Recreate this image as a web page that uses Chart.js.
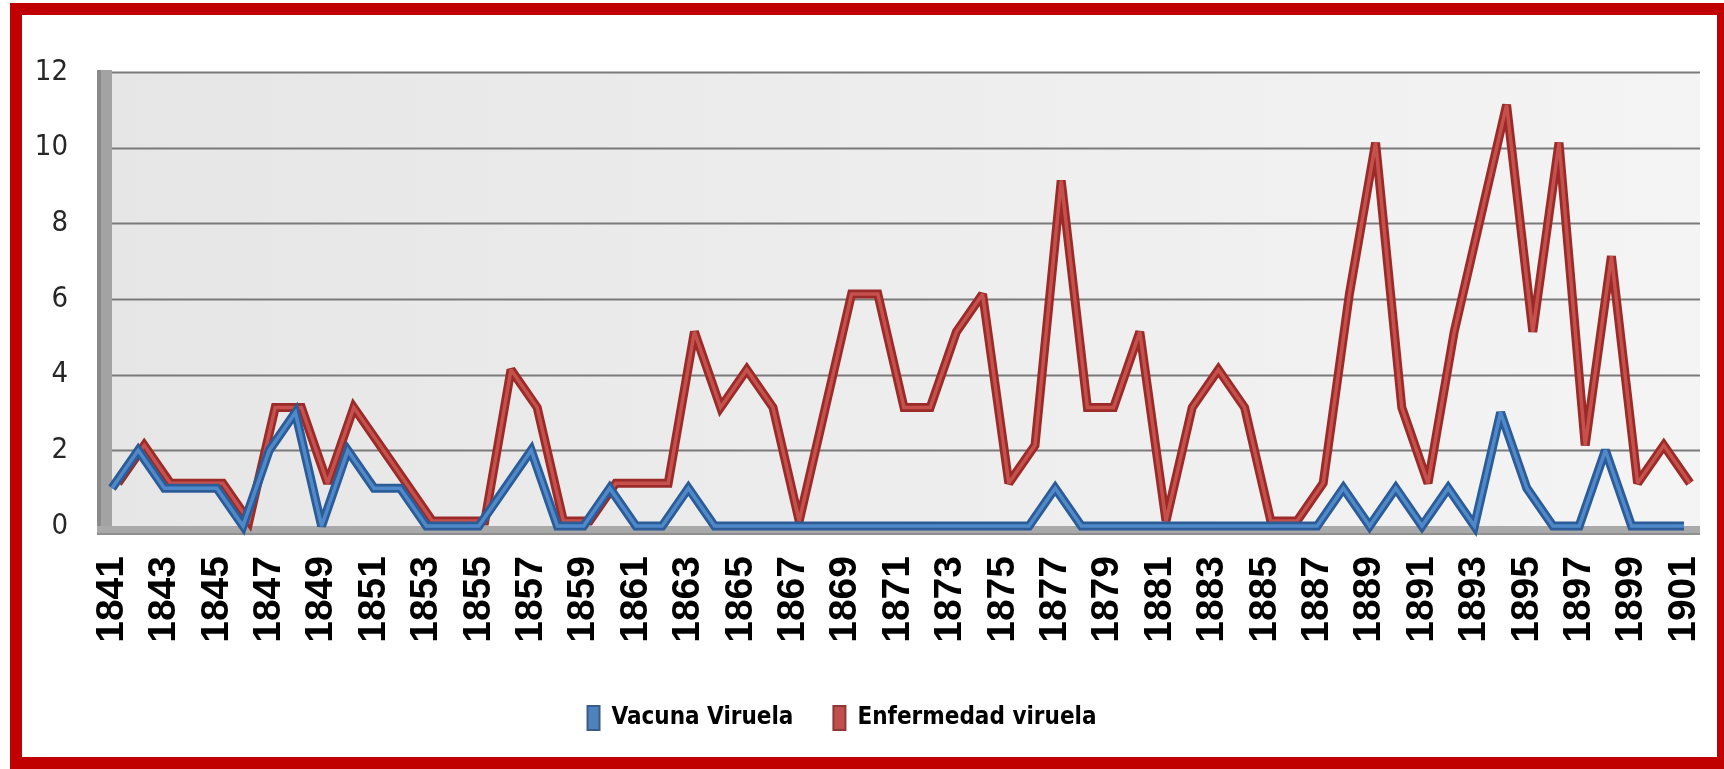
<!DOCTYPE html>
<html>
<head>
<meta charset="utf-8">
<script src="https://cdn.jsdelivr.net/npm/chart.js@4.4.1/dist/chart.umd.min.js"></script>
<style>
  html, body { margin: 0; padding: 0; background: #fff; overflow: hidden; }
  #wrap { position: relative; width: 1724px; height: 769px; }
  #marco {
    position: absolute; left: 10px; top: 3px; width: 1719px; height: 766px;
    border: 12px solid #c00000; box-sizing: border-box; pointer-events: none;
  }
</style>
</head>
<body>
<div id="wrap">
  <canvas id="viruela" width="1724" height="769"></canvas>
  <div id="marco"></div>
</div>
<script>
// años del registro
const anios = [
  "1841", "1842", "1843", "1844", "1845", "1846", "1847", "1848", "1849", "1850",
  "1851", "1852", "1853", "1854", "1855", "1856", "1857", "1858", "1859", "1860",
  "1861", "1862", "1863", "1864", "1865", "1866", "1867", "1868", "1869", "1870",
  "1871", "1872", "1873", "1874", "1875", "1876", "1877", "1878", "1879", "1880",
  "1881", "1882", "1883", "1884", "1885", "1886", "1887", "1888", "1889", "1890",
  "1891", "1892", "1893", "1894", "1895", "1896", "1897", "1898", "1899", "1900",
  "1901",
];
const vacuna_viruela = [
  1, 2, 1, 1, 1, 0, 2, 3, 0, 2,
  1, 1, 0, 0, 0, 1, 2, 0, 0, 1,
  0, 0, 1, 0, 0, 0, 0, 0, 0, 0,
  0, 0, 0, 0, 0, 0, 1, 0, 0, 0,
  0, 0, 0, 0, 0, 0, 0, 1, 0, 1,
  0, 1, 0, 3, 1, 0, 0, 2, 0, 0,
  0,
];
const enfermedad_viruela = [
  1, 2, 1, 1, 1, 0, 3, 3, 1, 3,
  2, 1, 0, 0, 0, 4, 3, 0, 0, 1,
  1, 1, 5, 3, 4, 3, 0, 3, 6, 6,
  3, 3, 5, 6, 1, 2, 9, 3, 3, 5,
  0, 3, 4, 3, 0, 0, 1, 6, 10, 3,
  1, 5, 8, 11, 5, 10, 2, 7, 1, 2,
  1,
];
const nombres_series = ["Vacuna Viruela", "Enfermedad viruela"];

const fuente_estrecha = "'Liberation Sans Narrow', 'DejaVu Sans Condensed', 'Arial Narrow', sans-serif";

// fondo 3D: pared, suelo y lineas de division
const plugin_fondo = {
  id: "fondo3d",
  beforeDatasetsDraw: (chart) => {
    const { ctx, chartArea } = chart;
    const y = chart.scales.y;
    const izq = chartArea.left;
    const der = chartArea.right + 16;
    const arriba = y.getPixelForValue(12);
    const abajo = y.getPixelForValue(0);
    ctx.save();
    // panel
    const grad = ctx.createLinearGradient(izq, 0, der, 0);
    grad.addColorStop(0, "#e6e6e6");
    grad.addColorStop(1, "#f4f4f4");
    ctx.fillStyle = grad;
    ctx.fillRect(izq, arriba, der - izq, abajo - arriba);
    // pared izquierda
    ctx.fillStyle = "#a3a3a3";
    ctx.fillRect(izq - 15, arriba - 2, 15, abajo - arriba + 11);
    ctx.fillStyle = "#8a8a8a";
    ctx.fillRect(izq - 15, arriba - 2, 4, abajo - arriba + 11);
    // suelo
    ctx.fillStyle = "#a9a9a9";
    ctx.fillRect(izq - 15, abajo, der - izq + 15, 9);
    ctx.fillStyle = "#8f8f8f";
    ctx.fillRect(izq - 15, abajo + 7, der - izq + 15, 2);
    // lineas
    ctx.strokeStyle = "#7a7a7a";
    ctx.lineWidth = 2;
    y.ticks.forEach((t) => {
      if (t.value === 0) return;
      const py = Math.round(y.getPixelForValue(t.value)) + 0.5;
      ctx.beginPath();
      ctx.moveTo(izq, py);
      ctx.lineTo(der, py);
      ctx.stroke();
    });
    ctx.restore();
    ctx.miterLimit = 2.5; // picos no tan largos
  },
  // la serie roja va detras, un poco desplazada
  beforeDatasetDraw: (chart, args) => {
    if (chart.data.datasets[args.index].atras) {
      chart.ctx.save();
      chart.ctx.translate(6, -5);
    }
  },
  afterDatasetDraw: (chart, args) => {
    if (chart.data.datasets[args.index].atras) {
      chart.ctx.restore();
    }
  },
};

const ctx = document.getElementById("viruela").getContext("2d");
const chart_viruela = new Chart(ctx, {
  type: "line",
  data: {
    labels: anios,
    datasets: [
      {
        label: nombres_series[0],
        data: vacuna_viruela,
        borderColor: "#5089c9",
        borderWidth: 3.5,
        pointRadius: 0,
        tension: 0,
        clip: false,
        order: 1,
      },
      {
        label: nombres_series[0] + " borde",
        data: vacuna_viruela,
        borderColor: "#2b5c97",
        borderWidth: 9,
        pointRadius: 0,
        tension: 0,
        clip: false,
        order: 2,
      },
      {
        label: nombres_series[1],
        data: enfermedad_viruela,
        borderColor: "#c5504c",
        borderWidth: 3.5,
        pointRadius: 0,
        tension: 0,
        clip: false,
        order: 3,
        atras: true,
      },
      {
        label: nombres_series[1] + " borde",
        data: enfermedad_viruela,
        borderColor: "#9a2b29",
        borderWidth: 9,
        pointRadius: 0,
        tension: 0,
        clip: false,
        order: 4,
        atras: true,
      },
    ],
  },
  options: {
    responsive: false,
    animation: false,
    layout: {
      padding: { left: 0, right: 40, top: 72, bottom: 29 },
    },
    plugins: {
      tooltip: { enabled: false },
      legend: {
        display: true,
        position: "bottom",
        labels: {
          boxWidth: 12,
          boxHeight: 24,
          padding: 40,
          color: "#000",
          font: { family: fuente_estrecha, size: 24, weight: "bold" },
          generateLabels: () => [
            { text: nombres_series[0], fillStyle: "#4f81bd", strokeStyle: "#385d8a", lineWidth: 2, datasetIndex: 0, hidden: false },
            { text: nombres_series[1], fillStyle: "#c0504d", strokeStyle: "#8c3836", lineWidth: 2, datasetIndex: 2, hidden: false },
          ],
        },
      },
    },
    scales: {
      x: {
        offset: false,
        grid: { display: false, drawTicks: false },
        border: { display: false },
        ticks: {
          autoSkip: false,
          maxRotation: 90,
          minRotation: 90,
          padding: 30,
          color: "#000",
          font: { family: "'Liberation Sans', Arial, sans-serif", size: 39, weight: "bold" },
          callback: function (value, index) {
            return index % 2 === 0 ? this.getLabelForValue(value) : "";
          },
        },
        afterFit: (scale) => {
          scale.height = 140;
          // sin margen extra por las etiquetas giradas
          scale.paddingLeft = 0;
          scale.paddingRight = 0;
        },
      },
      y: {
        min: 0,
        max: 12,
        grid: { display: false, drawTicks: false },
        border: { display: false },
        ticks: {
          stepSize: 2,
          padding: 44,
          color: "#262626",
          font: { family: fuente_estrecha, size: 29 },
        },
        afterFit: (scale) => {
          scale.width = 112;
        },
      },
    },
  },
  plugins: [plugin_fondo],
});
</script>
</body>
</html>
